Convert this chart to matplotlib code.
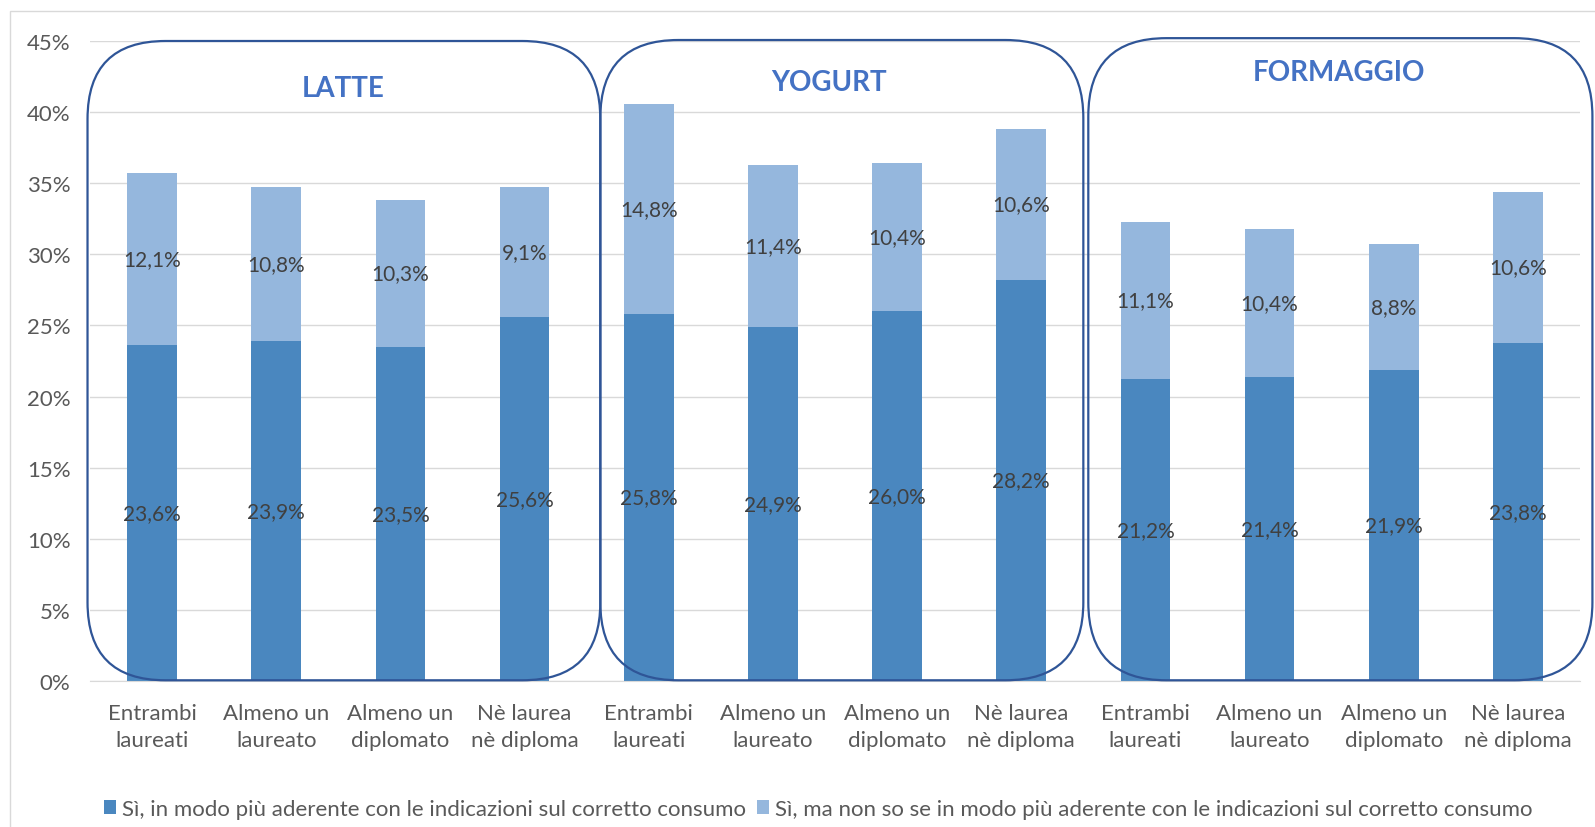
import matplotlib
matplotlib.use("Agg")
import matplotlib.pyplot as plt
from matplotlib.patches import FancyBboxPatch, Rectangle
from matplotlib.transforms import IdentityTransform
import numpy as np

# --- Dati ---
prodotti = ["LATTE", "YOGURT", "FORMAGGIO"]
categorie = ["Entrambi\nlaureati", "Almeno un\nlaureato", "Almeno un\ndiplomato", "Nè laurea\nnè diploma"]
serie_nomi = [
    "Sì, in modo più aderente con le indicazioni sul corretto consumo",
    "Sì, ma non so se in modo più aderente con le indicazioni sul corretto consumo",
]
latte_si = [23.6, 23.9, 23.5, 25.6]
latte_forse = [12.1, 10.8, 10.3, 9.1]
yogurt_si = [25.8, 24.9, 26.0, 28.2]
yogurt_forse = [14.8, 11.4, 10.4, 10.6]
formaggio_si = [21.2, 21.4, 21.9, 23.8]
formaggio_forse = [11.1, 10.4, 8.8, 10.6]

si = latte_si + yogurt_si + formaggio_si
forse = latte_forse + yogurt_forse + formaggio_forse
etichette = categorie * 3

# --- Stile ---
plt.rcParams["font.family"] = ["Lato", "DejaVu Sans"]
COL_SCURO = "#4A87BF"
COL_CHIARO = "#95B7DD"
COL_BOX = "#2F5597"
COL_TITOLO = "#4472C4"
COL_TESTO = "#595959"

fig = plt.figure(figsize=(15.95, 8.28), dpi=100)
ax = fig.add_axes([90 / 1595, 1 - 682 / 828, 1490 / 1595, 640 / 828])

x = np.arange(len(si))
ax.bar(x, si, width=0.4, color=COL_SCURO, label=serie_nomi[0], zorder=2)
ax.bar(x, forse, width=0.4, bottom=si, color=COL_CHIARO, label=serie_nomi[1], zorder=2)

for xi, a, b in zip(x, si, forse):
    ax.text(xi, a / 2, f"{a:.1f}%".replace(".", ","), ha="center", va="center",
            fontsize=15, color="#404040", zorder=3)
    ax.text(xi, a + b / 2, f"{b:.1f}%".replace(".", ","), ha="center", va="center",
            fontsize=15, color="#404040", zorder=3)

ax.set_xlim(-0.5, len(si) - 0.5)
ax.set_ylim(0, 45)
ax.set_yticks(np.arange(0, 46, 5))
ax.set_yticklabels([f"{v}%" for v in range(0, 46, 5)])
ax.set_xticks(x)
ax.set_xticklabels(etichette, linespacing=1.45)
ax.tick_params(axis="both", length=0, labelsize=16, labelcolor=COL_TESTO)
ax.tick_params(axis="y", pad=14)
ax.tick_params(axis="x", pad=16)
ax.grid(axis="y", color="#D9D9D9", linewidth=1, zorder=0)
for s in ["top", "right", "left"]:
    ax.spines[s].set_visible(False)
ax.spines["bottom"].set_color("#D9D9D9")

# --- Riquadri arrotondati per prodotto ---
box_x = [(-0.52, 3.61), (3.61, 7.50), (7.54, 11.60)]
box_top = [45.0, 45.07, 45.2]
titoli_pos = [(1.54, 41.7), (5.45, 42.1), (9.56, 42.8)]
for (x0, x1), top, nome, (tx, ty) in zip(box_x, box_top, prodotti, titoli_pos):
    (px0, py0), (px1, py1) = ax.transData.transform([(x0, 0.05), (x1, top)])
    box = FancyBboxPatch((px0, py0), px1 - px0, py1 - py0,
                         boxstyle="round,pad=0,rounding_size=78",
                         transform=IdentityTransform(), fill=False,
                         edgecolor=COL_BOX, linewidth=1.6, zorder=4)
    fig.add_artist(box)
    ax.text(tx, ty, nome, ha="center", va="center", fontsize=20,
            fontweight="bold", color=COL_TITOLO, zorder=5)

# bordo area grafico
fig.add_artist(Rectangle((10 / 1595, -0.1), 1.2, 1.1 - 12 / 828,
                         transform=fig.transFigure, fill=False,
                         edgecolor="#D9D9D9", linewidth=1))

fig.legend(loc="center", bbox_to_anchor=(818 / 1595, 1 - 810 / 828), ncol=2,
           frameon=False, fontsize=16, labelcolor=COL_TESTO,
           handlelength=0.55, handleheight=0.55, handletextpad=0.25,
           columnspacing=0.5)

fig.savefig("out.png", dpi=100, facecolor="white")
